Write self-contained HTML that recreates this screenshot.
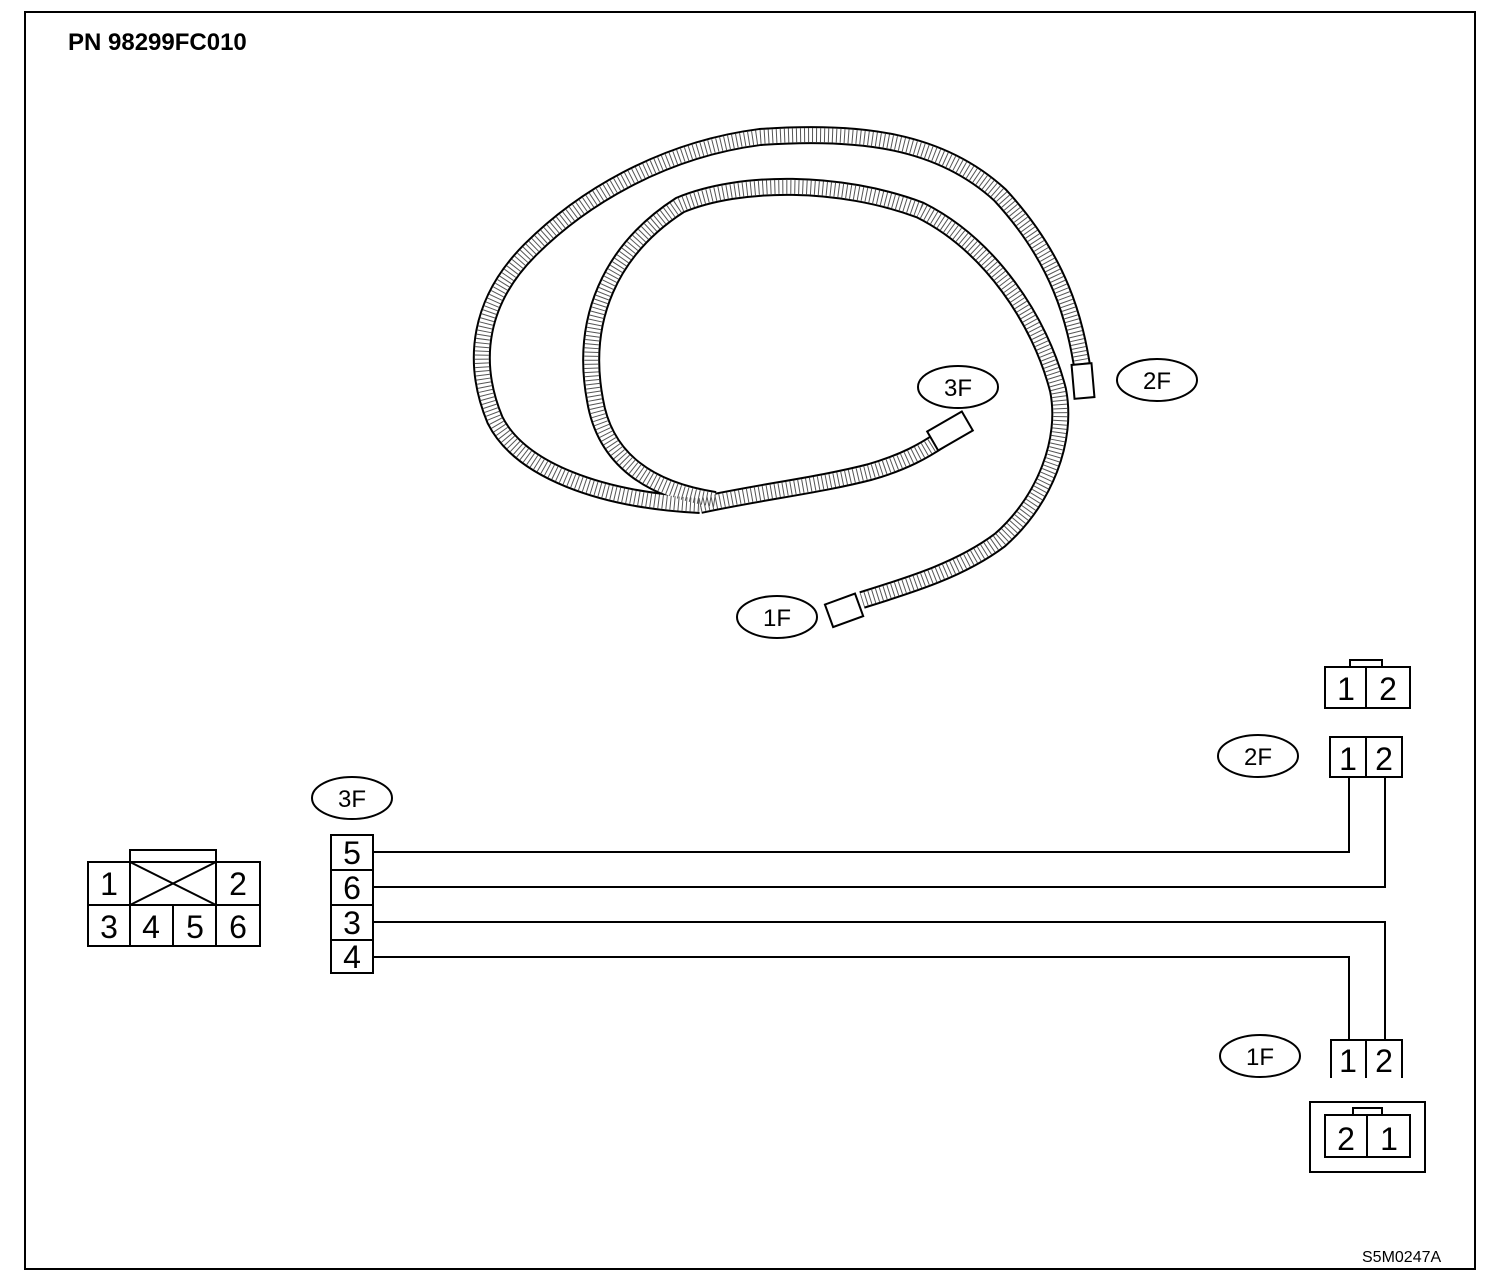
<!DOCTYPE html>
<html><head><style>body{margin:0;background:#fff}svg{display:block}</style></head><body>
<svg width="1504" height="1288" xmlns="http://www.w3.org/2000/svg" font-family="Liberation Sans, sans-serif">
<rect x="25" y="12" width="1450" height="1257" fill="none" stroke="#000" stroke-width="2"/>
<text x="68" y="50" font-size="24" font-weight="bold">PN 98299FC010</text>
<text x="1362" y="1262" font-size="16">S5M0247A</text>
<g fill="none" stroke-linecap="round" stroke-linejoin="round">
<g id="c">
<path id="p1" d="M1083,372 C1075,320 1060,260 1000,195 C940,140 860,130 760,137 C660,150 580,200 530,250 C480,300 470,360 495,420 C520,470 600,500 700,505"/>
<path id="p2" d="M715,500 C650,490 605,460 595,400 C580,320 610,250 680,205 C740,180 840,180 920,210 C990,245 1040,320 1058,390 C1068,440 1045,500 1000,540 C960,570 910,585 862,600"/>
<path id="p3" d="M700,505 C760,492 820,485 870,472 C905,462 925,450 940,440"/>
</g>
</g>
<use href="#c" stroke="#000" stroke-width="18" fill="none"/>
<use href="#c" stroke="#fff" stroke-width="14" fill="none"/>
<use href="#c" stroke="#555" stroke-width="14" stroke-dasharray="1 3" fill="none"/>
<g stroke="#000" stroke-width="2" fill="#fff">
<rect x="1073" y="364" width="20" height="34" transform="rotate(-5 1083 381)"/>
<rect x="930" y="420" width="40" height="22" transform="rotate(-30 950 431)"/>
<rect x="828" y="598" width="32" height="24" transform="rotate(-20 845 610)"/>
<ellipse cx="958" cy="387" rx="40" ry="21"/>
<ellipse cx="1157" cy="380" rx="40" ry="21"/>
<ellipse cx="777" cy="617" rx="40" ry="21"/>
<ellipse cx="1258" cy="756" rx="40" ry="21"/>
<ellipse cx="1260" cy="1056" rx="40" ry="21"/>
<ellipse cx="352" cy="798" rx="40" ry="21"/>
</g>
<g font-size="24" text-anchor="middle">
<text x="958" y="396">3F</text><text x="1157" y="389">2F</text><text x="777" y="626">1F</text>
<text x="1258" y="765">2F</text><text x="1260" y="1065">1F</text><text x="352" y="807">3F</text>
</g>
<g stroke="#000" stroke-width="2" fill="none">
<rect x="1350" y="660" width="32" height="7"/>
<rect x="1325" y="667" width="85" height="41"/><line x1="1366" y1="667" x2="1366" y2="708"/>
<rect x="1330" y="737" width="72" height="40"/><line x1="1366" y1="737" x2="1366" y2="777"/>
<rect x="331" y="835" width="42" height="138"/>
<line x1="331" y1="870" x2="373" y2="870"/><line x1="331" y1="905" x2="373" y2="905"/><line x1="331" y1="940" x2="373" y2="940"/>
<polyline points="373,852 1349,852 1349,777"/>
<polyline points="373,887 1385,887 1385,777"/>
<polyline points="373,922 1385,922 1385,1040"/>
<polyline points="373,957 1349,957 1349,1040"/>
<polyline points="1331,1078 1331,1040 1402,1040 1402,1078"/><line x1="1366" y1="1040" x2="1366" y2="1078"/>
<rect x="1310" y="1102" width="115" height="70"/>
<rect x="1353" y="1108" width="29" height="7"/>
<rect x="1325" y="1115" width="85" height="42"/><line x1="1367" y1="1115" x2="1367" y2="1157"/>
<rect x="88" y="862" width="172" height="84"/>
<rect x="130" y="850" width="86" height="12"/>
<line x1="88" y1="905" x2="260" y2="905"/>
<line x1="130" y1="862" x2="130" y2="946"/><line x1="216" y1="862" x2="216" y2="946"/><line x1="173" y1="905" x2="173" y2="946"/>
<line x1="130" y1="862" x2="216" y2="905"/><line x1="216" y1="862" x2="130" y2="905"/>
</g>
<g font-size="32" text-anchor="middle">
<text x="1346" y="700">1</text><text x="1388" y="700">2</text>
<text x="1348" y="770">1</text><text x="1384" y="770">2</text>
<text x="1348" y="1072">1</text><text x="1384" y="1072">2</text>
<text x="1346" y="1150">2</text><text x="1389" y="1150">1</text>
<text x="352" y="864">5</text><text x="352" y="899">6</text><text x="352" y="934">3</text><text x="352" y="968">4</text>
<text x="109" y="895">1</text><text x="238" y="895">2</text>
<text x="109" y="938">3</text><text x="151" y="938">4</text><text x="195" y="938">5</text><text x="238" y="938">6</text>
</g>
</svg>
</body></html>
